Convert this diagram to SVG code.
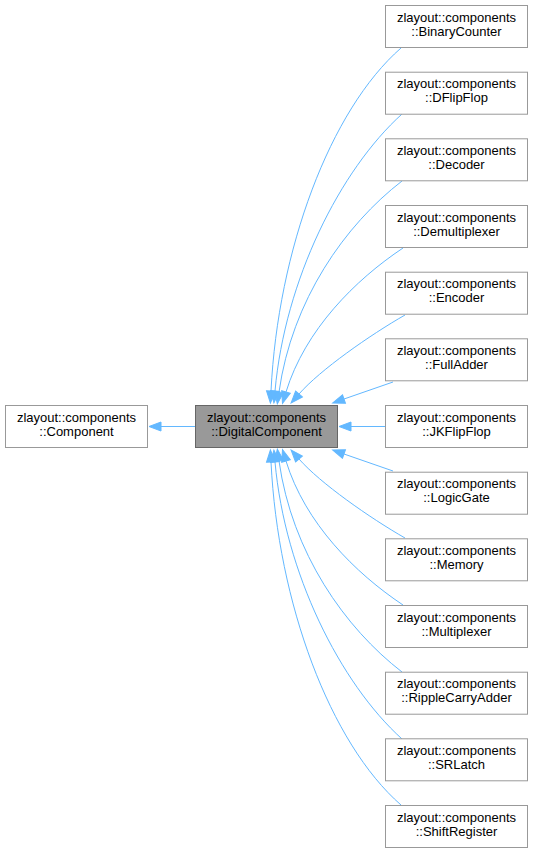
<svg xmlns="http://www.w3.org/2000/svg" width="534" height="853" viewBox="0 0 534 853">
<style>
.n rect{fill:#ffffff;stroke:#999999;stroke-width:1}
.h rect{fill:#999999;stroke:#666666;stroke-width:1}
text{font-family:"Liberation Sans",Arial,sans-serif;font-size:13px;fill:#000000;text-anchor:middle}
.e path{fill:none;stroke:#63b8ff;stroke-width:1;marker-end:url(#ah)}
</style>
<defs>
<marker id="ah" markerUnits="userSpaceOnUse" markerWidth="13" markerHeight="10" refX="0" refY="4.5" orient="auto" overflow="visible">
<polygon points="0,0 12,4.5 0,9" fill="#63b8ff" stroke="#63b8ff"/>
</marker>
</defs>
<g id="edges" class="e">
<path d="M195,426.5 L161,426.5"/>
<path d="M401,48 C330,110 278,250 271,391"/>
<path d="M402,114 C340,170 285,280 275,391"/>
<path d="M402,181 C345,225 292,300 279,392"/>
<path d="M403,248 C355,280 305,330 286,392"/>
<path d="M405,315 C370,335 320,370 299,394"/>
<path d="M393,382 L344,399"/>
<path d="M385,426.5 L351,426.5"/>
<path d="M393,471 L344,454"/>
<path d="M405,538 C370,518 320,483 299,459"/>
<path d="M403,605 C355,573 305,523 286,461"/>
<path d="M402,672 C345,628 292,553 279,461"/>
<path d="M402,739 C340,683 285,573 275,462"/>
<path d="M401,805 C330,743 278,603 271,462"/>
</g>
<g id="Component" class="n"><rect x="5.5" y="405.5" width="142" height="42"/><text x="76.5" y="421.5">zlayout::components</text><text x="76.5" y="435.5">::Component</text></g>
<g id="DigitalComponent" class="h"><rect x="195.5" y="405.5" width="142" height="42"/><text x="266.5" y="421.5">zlayout::components</text><text x="266.5" y="435.5">::DigitalComponent</text></g>
<g id="BinaryCounter" class="n"><rect x="385.5" y="5.5" width="142" height="42"/><text x="456.5" y="21.5">zlayout::components</text><text x="456.5" y="35.5">::BinaryCounter</text></g>
<g id="DFlipFlop" class="n"><rect x="385.5" y="72.2" width="142" height="42"/><text x="456.5" y="88.2">zlayout::components</text><text x="456.5" y="102.2">::DFlipFlop</text></g>
<g id="Decoder" class="n"><rect x="385.5" y="138.8" width="142" height="42"/><text x="456.5" y="154.8">zlayout::components</text><text x="456.5" y="168.8">::Decoder</text></g>
<g id="Demultiplexer" class="n"><rect x="385.5" y="205.5" width="142" height="42"/><text x="456.5" y="221.5">zlayout::components</text><text x="456.5" y="235.5">::Demultiplexer</text></g>
<g id="Encoder" class="n"><rect x="385.5" y="272.2" width="142" height="42"/><text x="456.5" y="288.2">zlayout::components</text><text x="456.5" y="302.2">::Encoder</text></g>
<g id="FullAdder" class="n"><rect x="385.5" y="338.8" width="142" height="42"/><text x="456.5" y="354.8">zlayout::components</text><text x="456.5" y="368.8">::FullAdder</text></g>
<g id="JKFlipFlop" class="n"><rect x="385.5" y="405.5" width="142" height="42"/><text x="456.5" y="421.5">zlayout::components</text><text x="456.5" y="435.5">::JKFlipFlop</text></g>
<g id="LogicGate" class="n"><rect x="385.5" y="472.2" width="142" height="42"/><text x="456.5" y="488.2">zlayout::components</text><text x="456.5" y="502.2">::LogicGate</text></g>
<g id="Memory" class="n"><rect x="385.5" y="538.8" width="142" height="42"/><text x="456.5" y="554.8">zlayout::components</text><text x="456.5" y="568.8">::Memory</text></g>
<g id="Multiplexer" class="n"><rect x="385.5" y="605.5" width="142" height="42"/><text x="456.5" y="621.5">zlayout::components</text><text x="456.5" y="635.5">::Multiplexer</text></g>
<g id="RippleCarryAdder" class="n"><rect x="385.5" y="672.2" width="142" height="42"/><text x="456.5" y="688.2">zlayout::components</text><text x="456.5" y="702.2">::RippleCarryAdder</text></g>
<g id="SRLatch" class="n"><rect x="385.5" y="738.8" width="142" height="42"/><text x="456.5" y="754.8">zlayout::components</text><text x="456.5" y="768.8">::SRLatch</text></g>
<g id="ShiftRegister" class="n"><rect x="385.5" y="805.5" width="142" height="42"/><text x="456.5" y="821.5">zlayout::components</text><text x="456.5" y="835.5">::ShiftRegister</text></g>
</svg>
